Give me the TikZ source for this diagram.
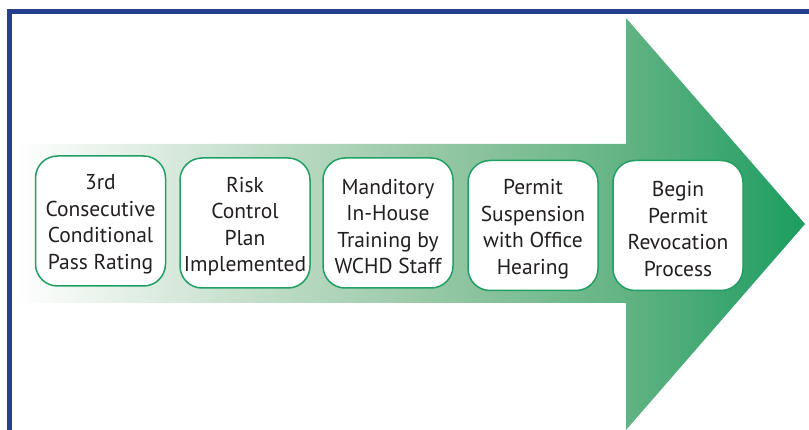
\documentclass[tikz,border=0pt]{standalone}
\usepackage{fontspec}
\setmainfont{PT Sans}
\definecolor{frameblue}{HTML}{263F8E}
\definecolor{boxgreen}{HTML}{20A062}
\definecolor{textgray}{HTML}{231F20}
\definecolor{shadeA}{HTML}{EAF3EC}
\definecolor{shadeB}{HTML}{B7D8C0}
\definecolor{shadeC}{HTML}{92C6A2}
\definecolor{shadeD}{HTML}{62B384}
\definecolor{shadeE}{HTML}{1C9D60}
% horizontal shading across the arrow: stops between 25bp and 75bp span its width
\pgfdeclarehorizontalshading{arrowshade}{100bp}{%
  color(0bp)=(white);
  color(25bp)=(white);
  color(30.4bp)=(shadeA);
  color(43bp)=(shadeB);
  color(52.5bp)=(shadeC);
  color(63.7bp)=(shadeD);
  color(75bp)=(shadeE);
  color(100bp)=(shadeE)}
\tikzset{
  stepbox/.style={draw=boxgreen, line width=1.5pt, fill=white, rounded corners=22pt,
    minimum width=130pt, minimum height=130pt, inner sep=0pt},
  steptext/.style={align=center, font=\fontsize{21.5}{26.5}\selectfont,
    text=textgray, inner sep=0pt, yshift=-3.5pt},
  framebar/.style={draw=frameblue, line width=5pt}
}
\begin{document}
\begin{tikzpicture}[x=1pt,y=-1pt]
\useasboundingbox (0,0) rectangle (809,430);
% big arrow
\path[shading=arrowshade] (15,144) -- (626,144) -- (626,18) -- (805,224)
  -- (626,430) -- (626,303) -- (15,303) -- cycle;
% blue frame along top and left
\draw[framebar] (9.5,430) -- (9.5,11.5) -- (809,11.5);
% steps
\node[stepbox, label={[steptext]center:3rd\\Consecutive\\Conditional\\Pass Rating}] (s1) at (100.5,221) {};
\node[stepbox, label={[steptext]center:Risk\\Control\\Plan\\Implemented}] (s2) at (245,223) {};
\node[stepbox, label={[steptext]center:Manditory\\In-House\\Training by\\WCHD Staff}] (s3) at (388,223) {};
\node[stepbox, label={[steptext]center:Permit\\Suspension\\with Office\\Hearing}] (s4) at (533,225.5) {};
\node[stepbox, label={[steptext]center:Begin\\Permit\\Revocation\\Process}] (s5) at (678,225.5) {};
\end{tikzpicture}
\end{document}
